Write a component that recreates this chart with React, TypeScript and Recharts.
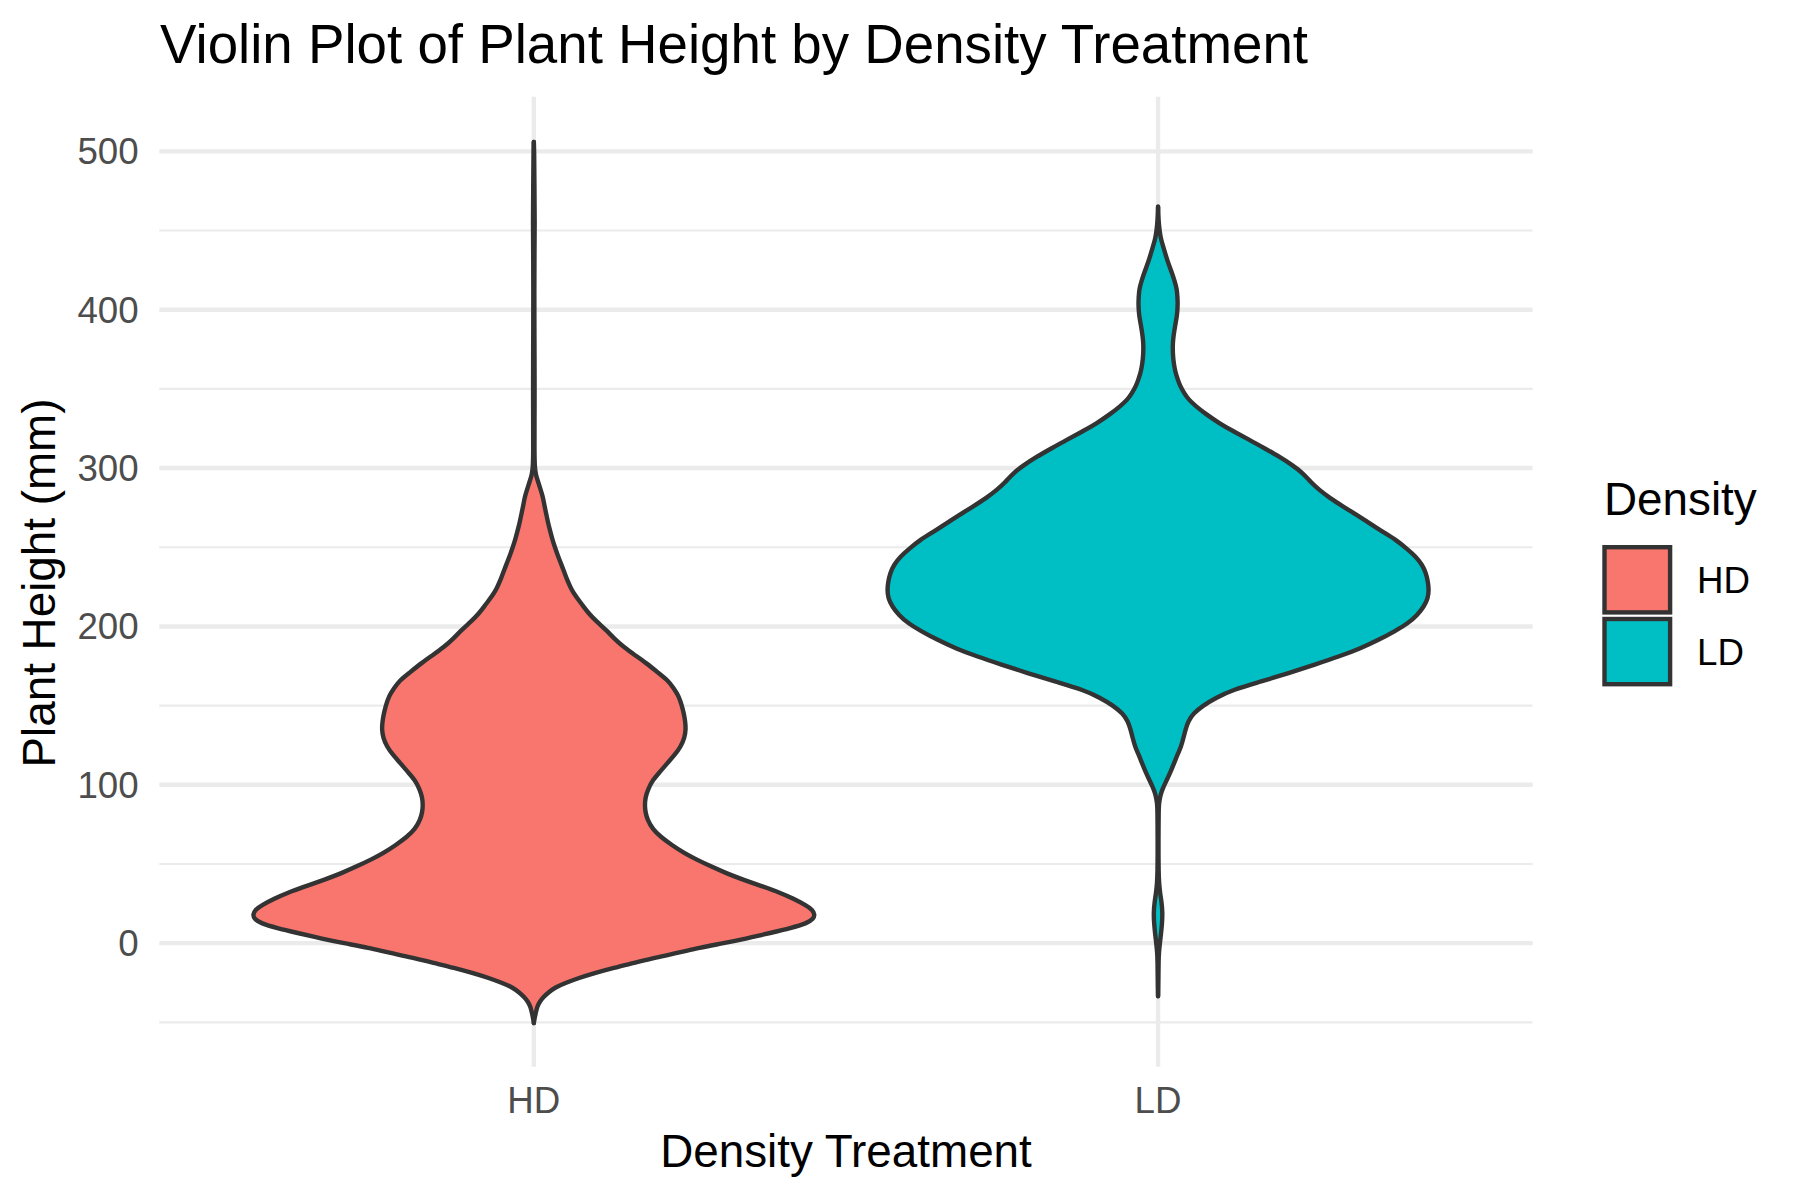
import React from 'react';
import { ComposedChart, Area, XAxis, YAxis, CartesianGrid, Legend } from 'recharts';

// ---------- data ----------
const categories = ['HD', 'LD'];
const fillColors = ['#F8766D', '#00BFC4'];

// Plant height (mm) sample points along each violin and the violin width there (% of the widest violin)
const hdHeights = [
  -50.5, -47, -44, -40, -37, -34, -31, -28, -25, -22, -19, -15.5, -12.5, -9, -6, -3, 0, 3, 6.5, 9.5,
  12.5, 15.5, 18, 21, 24, 28, 32, 36, 40, 44, 48.5, 53, 57, 62, 67, 72, 78, 83, 87, 92,
  97, 103, 108, 114, 119, 124, 130, 135, 140, 145, 150, 156, 161, 166, 171, 177, 182, 187, 192, 198,
  203, 208, 214, 219, 224, 230, 235, 240, 245, 250, 255, 261, 266, 272, 277, 282, 287, 292, 296, 300,
  310, 330, 350, 370, 390, 410, 430, 455, 480, 500, 506,
];
const hdWidths = [
  0, 0.3, 0.7, 1.2, 2.1, 3.4, 5.3, 7.5, 11.4, 16, 21.4, 28.5, 35.6, 43.4, 51.6, 58.7, 67.6, 75.8, 84.3, 91.5,
  97.2, 99.6, 100, 99.3, 96.8, 92.5, 87.5, 81.1, 74.7, 68.7, 63, 57.7, 53.4, 49.1, 45.2, 42.3, 40.4, 39.7, 39.5, 39.7,
  40.6, 42.3, 44.8, 47.7, 50.2, 52.3, 53.7, 54.1, 53.9, 53.4, 52.7, 51.6, 49.8, 47.7, 44.1, 39.9, 35.9, 32, 28.8, 25.6,
  22.4, 19.6, 17.1, 14.9, 13.2, 11.7, 10.7, 9.6, 8.5, 7.5, 6.6, 5.7, 5, 4.3, 3.7, 3.2, 2.3, 1.4, 0.7, 0.35,
  0.2, 0.25, 0.28, 0.25, 0.2, 0.18, 0.2, 0.35, 0.2, 0.14, 0,
];

const ldHeights = [
  -33.5, -28, -20, -12, -6, 0, 6, 12, 19, 26, 32, 38, 45, 55, 65, 75, 83, 88, 92, 95,
  99, 103, 108, 114, 119, 124, 130, 135, 140, 145, 150, 155, 160, 165, 170.6, 176, 181, 186, 191.6, 197,
  202, 207, 212.6, 218, 223, 228, 233.7, 239, 244, 249, 254.7, 260, 265.3, 270, 275.8, 281, 286.3, 291, 296.8, 302,
  307.3, 312, 318, 323, 328.4, 334, 339, 343, 347.3, 352, 356, 361, 366, 371, 377, 382, 387, 392, 396, 400,
  404, 408, 413, 418, 423, 428, 434, 439, 444, 449, 455, 460, 465,
];
const ldWidths = [
  0, 0.1, 0.14, 0.18, 0.3, 0.65, 1.05, 1.4, 1.6, 1.25, 0.7, 0.35, 0.2, 0.15, 0.15, 0.18, 0.22, 0.3, 0.7, 1.1,
  2, 3.1, 4.4, 5.8, 6.9, 8.2, 9.1, 9.8, 10.7, 12.5, 16, 20.6, 26.7, 36.3, 46.6, 55.9, 64.4, 71.9, 78.6, 84.3,
  89, 92.2, 94.7, 96.1, 96.4, 96.1, 95.4, 94, 91.8, 88.6, 84.7, 79.7, 75.1, 71.2, 65.8, 61.2, 57.3, 54.4, 51.6, 47.7,
  43.1, 38.4, 32.4, 27, 21.7, 17.1, 13.5, 11, 9.3, 7.8, 7, 6.1, 5.6, 5.3, 5.2, 5.4, 5.8, 6.3, 6.7, 6.9,
  7, 6.9, 6.7, 5.9, 5, 3.9, 2.8, 2, 1.1, 0.6, 0.25, 0.1, 0,
];

const yMajorTicks = [0, 100, 200, 300, 400, 500];
const yMinorTicks = [-50, 50, 150, 250, 350, 450];
const xPositions = [1, 2];

const chartTitle = 'Violin Plot of Plant Height by Density Treatment';
const xTitle = 'Density Treatment';
const yTitle = 'Plant Height (mm)';
const legendTitle = 'Density';

// ---------- helpers ----------
const MAX_HALF_WIDTH = 0.45; // violin max width 0.9 category units
const buildViolin = (center: number, heights: number[], widths: number[]) =>
  heights.map((h, i) => {
    const hw = (widths[i] / 100) * MAX_HALF_WIDTH;
    return { v: h, range: [center - hw, center + hw] };
  });

const hdData = buildViolin(xPositions[0], hdHeights, hdWidths);
const ldData = buildViolin(xPositions[1], ldHeights, ldWidths);

const FONT = '"Liberation Sans", Arial, Helvetica, sans-serif';
const OUTLINE = '#333333';
const GRID = '#EBEBEB';

const LegendContent = () => (
  <svg width={190} height={230} style={{ display: 'block', fontFamily: FONT }}>
    <text x={4} y={45} fontSize={45.8} fill="#000">{legendTitle}</text>
    {categories.map((c, i) => (
      <g key={c}>
        <rect
          x={4.5}
          y={77.2 + i * 71.8}
          width={65.6}
          height={65.2}
          fill={fillColors[i]}
          stroke={OUTLINE}
          strokeWidth={4.4}
        />
        <text x={97} y={123 + i * 72} fontSize={36.7} fill="#000">{c}</text>
      </g>
    ))}
  </svg>
);

export default function App() {
  return (
    <div style={{ position: 'absolute', left: 0, top: 0, width: 1800, height: 1200, background: '#fff' }}>
      <ComposedChart
        width={1800}
        height={1200}
        layout="vertical"
        margin={{ top: 96.7, right: 267.4, bottom: 33.3, left: 0 }}
        style={{ fontFamily: FONT }}
      >
        <CartesianGrid
          horizontalValues={yMinorTicks}
          vertical={false}
          stroke={GRID}
          strokeWidth={2.2}
        />
        <CartesianGrid
          horizontalValues={yMajorTicks}
          verticalValues={xPositions}
          stroke={GRID}
          strokeWidth={4.4}
        />
        <XAxis
          type="number"
          dataKey="range"
          domain={[0.4, 2.6]}
          allowDataOverflow
          ticks={xPositions}
          tickFormatter={(v: number) => categories[xPositions.indexOf(v)] ?? ''}
          axisLine={false}
          tickLine={false}
          tickSize={0}
          tickMargin={20.7}
          height={100}
          tick={{ fill: '#4D4D4D', fontSize: 36.7, fontFamily: FONT }}
        />
        <YAxis
          type="number"
          dataKey="v"
          domain={[-78, 534.5]}
          allowDataOverflow
          reversed
          ticks={yMajorTicks}
          axisLine={false}
          tickLine={false}
          tickSize={0}
          tickMargin={20.7}
          width={159.3}
          tick={{ fill: '#4D4D4D', fontSize: 36.7, fontFamily: FONT }}
        />
        <Area
          name={categories[0]}
          data={hdData}
          dataKey="range"
          type="basis"
          fill={fillColors[0]}
          fillOpacity={1}
          stroke={OUTLINE}
          strokeWidth={4.4}
          strokeLinecap="round"
          strokeLinejoin="round"
          dot={false}
          activeDot={false}
          isAnimationActive={false}
        />
        <Area
          name={categories[1]}
          data={ldData}
          dataKey="range"
          type="basis"
          fill={fillColors[1]}
          fillOpacity={1}
          stroke={OUTLINE}
          strokeWidth={4.4}
          strokeLinecap="round"
          strokeLinejoin="round"
          dot={false}
          activeDot={false}
          isAnimationActive={false}
        />
        <Legend
          layout="horizontal"
          align="center"
          verticalAlign="middle"
          width={190}
          height={230}
          wrapperStyle={{ left: 1600, top: 470, width: 190, height: 230 }}
          content={() => <LegendContent />}
        />
      </ComposedChart>
      <svg
        width={1800}
        height={1200}
        style={{ position: 'absolute', left: 0, top: 0, pointerEvents: 'none', fontFamily: FONT }}
      >
        <text x={160} y={63.3} fontSize={54.7} fill="#000">{chartTitle}</text>
        <text x={846} y={1167} fontSize={45.8} fill="#000" textAnchor="middle">{xTitle}</text>
        <text
          x={0}
          y={0}
          fontSize={45.8}
          fill="#000"
          textAnchor="middle"
          transform="translate(55.1 583) rotate(-90)"
        >
          {yTitle}
        </text>
      </svg>
    </div>
  );
}
